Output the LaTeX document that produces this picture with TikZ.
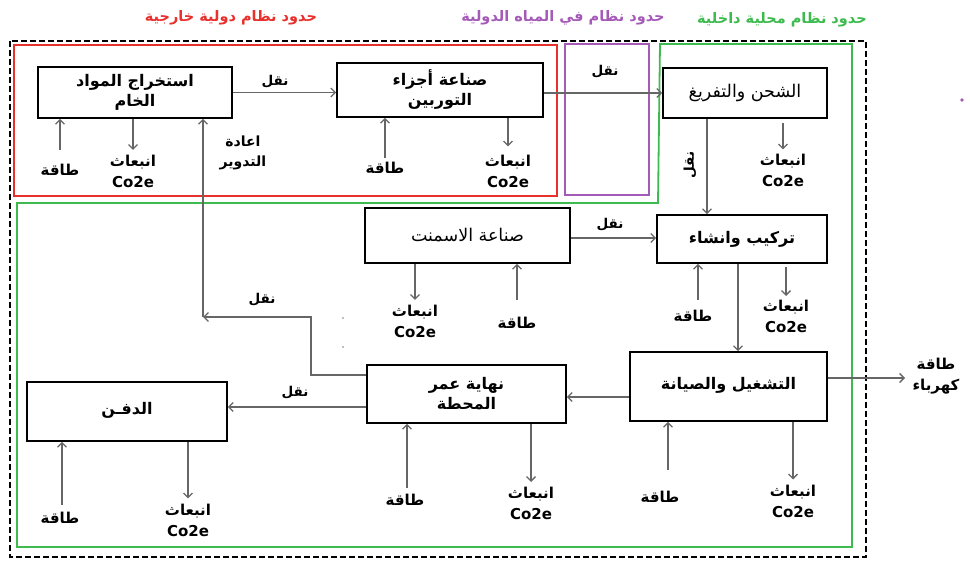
\documentclass[tikz,border=0pt]{standalone}
\usepackage{fontspec}
\setmainfont{DejaVu Sans}
\newfontfamily\arabicfont[Script=Arabic]{DejaVu Sans}
\TeXXeTstate=1
\usetikzlibrary{arrows.meta}
\newcommand{\artxt}[1]{{\arabicfont\beginR #1\endR}}
\definecolor{redb}{HTML}{E8302C}
\definecolor{greenb}{HTML}{3DBB4E}
\definecolor{purpb}{HTML}{A55AB8}
\definecolor{arrg}{HTML}{666666}
\begin{document}
\begin{tikzpicture}[x=1pt,y=-1pt,
  box/.style={draw=black, line width=1.6pt, fill=white, inner sep=0pt, align=center,
    font=\bfseries\fontsize{16}{20}\selectfont},
  boxreg/.style={box, font=\fontsize{17.5}{20}\selectfont},
  conn/.style={draw=arrg, line width=1.3pt, -{Straight Barb[length=4.5pt,width=9pt]}},
  lbl/.style={inner sep=0pt, align=center, font=\bfseries\fontsize{15}{21}\selectfont},
  nql/.style={inner sep=0pt, font=\bfseries\fontsize{13.5}{16}\selectfont},
  ttl/.style={inner sep=0pt, font=\bfseries\fontsize{14.5}{16}\selectfont}
]
\useasboundingbox (0,0) rectangle (970,561);

% boundaries
\draw[black, line width=1.6pt, dash pattern=on 6pt off 3pt] (10,41) rectangle (866,557);
\draw[redb, line width=1.8pt] (14,45) rectangle (557,196);
\draw[purpb, line width=1.8pt] (565,44) rectangle (649,195);
\draw[greenb, line width=1.8pt] (660,44) -- (852,44) -- (852,547) -- (17,547) -- (17,203) -- (658,203) -- cycle;

% titles
\node[ttl, text=redb] (t1) at (231,18) {\artxt{حدود نظام دولية خارجية}};
\node[ttl, text=purpb] (t2) at (563,18) {\artxt{حدود نظام في المياه الدولية}};
\node[ttl, text=greenb] (t3) at (782,20) {\artxt{حدود نظام محلية داخلية}};
\fill[purpb] (962,100) circle (1.8pt);
\fill[gray] (343,318) circle (0.8pt);
\fill[gray] (343,347) circle (0.8pt);

% boxes
\node[box, minimum width=194pt, minimum height=51pt] (b1) at (135,92.5) {\artxt{استخراج المواد}\\\artxt{الخام}};
\node[box, minimum width=206pt, minimum height=54pt] (b2) at (440,90) {\artxt{صناعة أجزاء}\\\artxt{التوربين}};
\node[boxreg, minimum width=164pt, minimum height=50pt] (b3) at (745,93) {\artxt{الشحن والتفريغ}};
\node[boxreg, minimum width=205pt, minimum height=55pt] (b4) at (467.5,235.5) {\artxt{صناعة الاسمنت}};
\node[box, minimum width=170pt, minimum height=48pt] (b5) at (742,239) {\raisebox{3pt}{\artxt{تركيب وانشاء}}};
\node[box, minimum width=197pt, minimum height=69pt] (b6) at (728.5,386.5) {\raisebox{7pt}{\artxt{التشغيل والصيانة}}};
\node[box, minimum width=199pt, minimum height=58pt] (b7) at (466.5,394) {\artxt{نهاية عمر}\\\artxt{المحطة}};
\node[box, minimum width=200pt, minimum height=59pt] (b8) at (127,411.5) {\raisebox{7pt}{\artxt{الدفـن}}};

% transport links
\draw[conn] (b1.east) -- (b1.east -| b2.west);
\node[nql] (n1) at (275,82) {\artxt{نقل}};
\draw[conn] (b2.east |- b3.west) -- (b3.west);
\node[nql] (n2) at (605,72) {\artxt{نقل}};
\draw[conn] ([xshift=-38pt]b3.south) -- ([xshift=-38pt]b3.south |- b5.north);
\node[nql, rotate=90] (n3) at (690,165) {\artxt{نقل}};
\draw[conn] ([yshift=-2.5pt]b4.east) -- ([yshift=-2.5pt]b4.east -| b5.west);
\node[nql] (n4) at (610,225) {\artxt{نقل}};
\draw[conn] ([xshift=-4pt]b5.south) -- ([xshift=-4pt]b5.south |- b6.north);
\draw[conn] ([yshift=-10.5pt]b6.west) -- ([yshift=-10.5pt]b6.west -| b7.east);
\draw[conn] ([yshift=-13pt]b7.west) -- ([yshift=-13pt]b7.west -| b8.east);
\node[nql] (n5) at (295,393) {\artxt{نقل}};

% recycling path
\coordinate (r1) at (311,317);
\coordinate (r2) at (203,317);
\draw[conn] ([yshift=19pt]b7.west) -| (r1) -- (r2);
\node[nql] (n6) at (262,300) {\artxt{نقل}};
\draw[conn] (r2) -- (r2 |- b1.south);
\node[lbl, font=\bfseries\fontsize{14}{20}\selectfont] (rc) at (243,153) {\artxt{اعادة}\\\artxt{التدوير}};

% output
\coordinate (out) at (905,378);
\draw[conn] ([yshift=8.5pt]b6.east) -- (out -| b6.east) -- (out);
\node[lbl] (el) at (936,376) {\artxt{طاقة}\\\artxt{كهرباء}};

% energy inputs
\node[lbl] (e1) at (60,170) {\artxt{طاقة}};
\coordinate (e1a) at (60,150);
\draw[conn] (e1a) -- (e1a |- b1.south);
\node[lbl] (e2) at (385,168) {\artxt{طاقة}};
\coordinate (e2a) at (385,158);
\draw[conn] (e2a) -- (e2a |- b2.south);
\node[lbl] (e4) at (517,323) {\artxt{طاقة}};
\coordinate (e4a) at (517,300);
\draw[conn] (e4a) -- (e4a |- b4.south);
\node[lbl] (e5) at (693,316) {\artxt{طاقة}};
\coordinate (e5a) at (698,300);
\draw[conn] (e5a) -- (e5a |- b5.south);
\node[lbl] (e6) at (660,497) {\artxt{طاقة}};
\coordinate (e6a) at (668,470);
\draw[conn] (e6a) -- (e6a |- b6.south);
\node[lbl] (e7) at (405,500) {\artxt{طاقة}};
\coordinate (e7a) at (407,488);
\draw[conn] (e7a) -- (e7a |- b7.south);
\node[lbl] (e8) at (60,518) {\artxt{طاقة}};
\coordinate (e8a) at (62,505);
\draw[conn] (e8a) -- (e8a |- b8.south);

% emissions
\node[lbl] (m1) at (133,171.5) {\artxt{انبعاث}\\Co2e};
\draw[conn] (b1.south -| m1) -- ([yshift=5pt]m1.north);
\node[lbl] (m2) at (508,171) {\artxt{انبعاث}\\Co2e};
\draw[conn] (b2.south -| m2) -- ([yshift=8pt]m2.north);
\node[lbl] (m3) at (783,170) {\artxt{انبعاث}\\Co2e};
\draw[conn] ([yshift=-4pt]b3.south -| m3) -- ([yshift=4pt]m3.north);
\node[lbl] (m4) at (415,321.5) {\artxt{انبعاث}\\Co2e};
\draw[conn] (b4.south -| m4) -- ([yshift=5pt]m4.north);
\node[lbl] (m5) at (786,316.5) {\artxt{انبعاث}\\Co2e};
\draw[conn] ([yshift=-3pt]b5.south -| m5) -- ([yshift=4pt]m5.north);
\node[lbl] (m6) at (793,501) {\artxt{انبعاث}\\Co2e};
\draw[conn] (b6.south -| m6) -- ([yshift=5pt]m6.north);
\node[lbl] (m7) at (531,503.5) {\artxt{انبعاث}\\Co2e};
\draw[conn] (b7.south -| m7) -- ([yshift=5pt]m7.north);
\node[lbl] (m8) at (188,520) {\artxt{انبعاث}\\Co2e};
\draw[conn] (b8.south -| m8) -- ([yshift=5pt]m8.north);
\end{tikzpicture}
\end{document}
